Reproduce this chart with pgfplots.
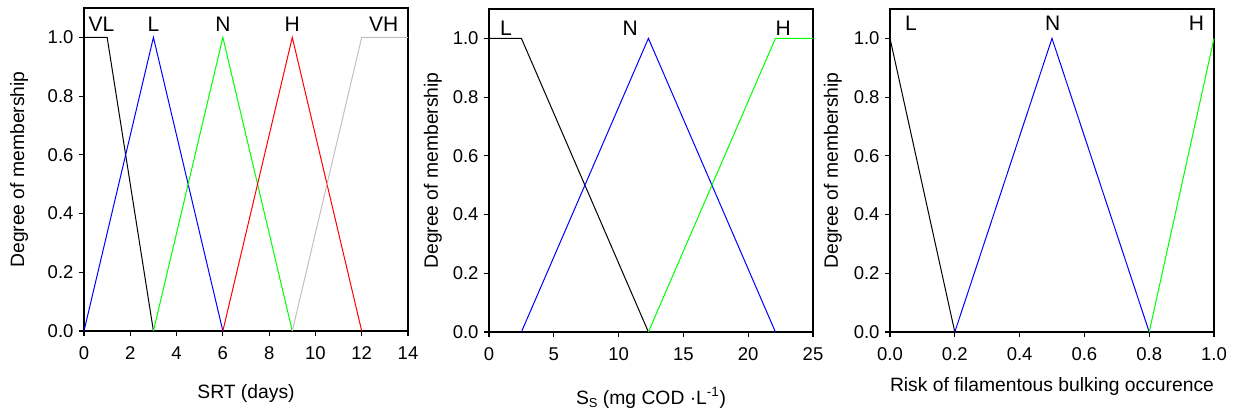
\documentclass[border=0pt]{standalone}
\usepackage{fontspec}
\setmainfont{Liberation Sans}
\usepackage{pgfplots}
\pgfplotsset{compat=1.18}
\definecolor{mfgreen}{RGB}{0,255,0}
\definecolor{mfblue}{RGB}{0,0,255}
\definecolor{mfred}{RGB}{255,0,0}
\definecolor{mfgray}{RGB}{192,192,192}
\tikzset{setlab/.style={font=\fontsize{21}{24}\selectfont, anchor=center}}
\pgfplotsset{
  mf/.style={
    scale only axis, width=324pt, height=323pt,
    anchor=south west,
    ymin=0, ymax=1.1,
    ytick={0,0.2,...,1.0},
    axis line style={line width=1.1pt},
    tick style={line width=1.1pt, black},
    tick align=outside, major tick length=5pt,
    xtick pos=bottom, ytick pos=left,
    /pgf/number format/assume math mode=true,
    yticklabel style={/pgf/number format/fixed, /pgf/number format/fixed zerofill, /pgf/number format/precision=1, font=\fontsize{18.5}{21}\selectfont, xshift=-2pt},
    xticklabel style={font=\fontsize{18.5}{21}\selectfont, yshift=-7pt},
    label style={font=\fontsize{19.3}{22}\selectfont},
    ylabel={Degree of membership},
    every axis plot/.append style={line width=1pt, mark=none},
    clip=false,
  },
}
\begin{document}
\begin{tikzpicture}
\useasboundingbox (0pt,0pt) rectangle (1236pt,412pt);
% Plot 1
\begin{axis}[mf, at={(84pt,81pt)},
  xmin=0, xmax=14, xtick={0,2,...,14},
  xlabel={SRT (days)},
  xlabel style={at={(axis description cs:0.5,-0.192)}, anchor=center},
  ylabel style={at={(axis description cs:-0.2,0.5)}, anchor=center},
]
\addplot[black] coordinates {(0,1) (1,1) (3,0) (5,0)};
\addplot[mfblue] coordinates {(0,0) (3,1) (6,0)};
\addplot[mfgreen] coordinates {(3,0) (6,1) (9,0)};
\addplot[mfred] coordinates {(6,0) (9,1) (12,0)};
\addplot[mfgray] coordinates {(9,0) (12,1) (14,1)};
\node[setlab] at (axis cs:0.75,1.045) {VL};
\node[setlab] at (axis cs:3.0,1.045) {L};
\node[setlab] at (axis cs:6.0,1.045) {N};
\node[setlab] at (axis cs:9.0,1.045) {H};
\node[setlab] at (axis cs:12.95,1.045) {VH};
\end{axis}
% Plot 2
\begin{axis}[mf, at={(489pt,80pt)},
  xmin=0, xmax=25, xtick={0,5,...,25},
  xlabel={S\raisebox{-0.35ex}{\fontsize{13}{15}\selectfont S} (mg COD ·L\textsuperscript{-1})},
  xlabel style={at={(axis description cs:0.5,-0.204)}, anchor=center},
  ylabel style={at={(axis description cs:-0.173,0.5)}, anchor=center},
]
\addplot[black] coordinates {(0,1) (2.5,1) (12.3,0)};
\addplot[mfblue] coordinates {(2.5,0) (12.3,1) (22.1,0)};
\addplot[mfgreen] coordinates {(12.3,0) (22.1,1) (25,1)};
\node[setlab] at (axis cs:1.3,1.035) {L};
\node[setlab] at (axis cs:10.9,1.035) {N};
\node[setlab] at (axis cs:22.7,1.035) {H};
\end{axis}
% Plot 3
\begin{axis}[mf, at={(890pt,80pt)},
  xmin=0, xmax=1, xtick={0,0.2,...,1.0},
  xticklabel style={/pgf/number format/fixed, /pgf/number format/fixed zerofill, /pgf/number format/precision=1},
  xlabel={Risk of filamentous bulking occurence},
  xlabel style={at={(axis description cs:0.5,-0.17)}, anchor=center},
  ylabel style={at={(axis description cs:-0.176,0.5)}, anchor=center},
]
\addplot[black] coordinates {(0,1) (0.2,0)};
\addplot[mfblue] coordinates {(0.2,0) (0.5,1) (0.8,0)};
\addplot[mfgreen] coordinates {(0.8,0) (1,1)};
\node[setlab] at (axis cs:0.065,1.05) {L};
\node[setlab] at (axis cs:0.502,1.05) {N};
\node[setlab] at (axis cs:0.946,1.05) {H};
\end{axis}
\end{tikzpicture}
\end{document}
